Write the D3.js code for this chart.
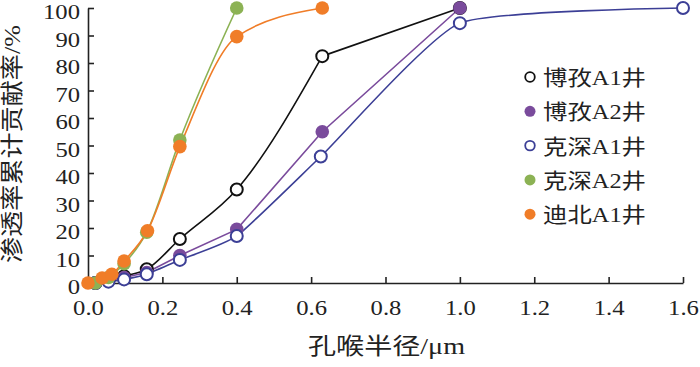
<!DOCTYPE html>
<html>
<head>
<meta charset="utf-8">
<script src="https://cdn.jsdelivr.net/npm/d3@7"></script>
<style>
	body { margin: 0; background: #fff; }
	svg { display: block; }
	text { font-family: "Liberation Serif", "Times New Roman", "DejaVu Serif", "Noto Sans CJK SC", serif; fill: #222; }
</style>
</head>
<body>
<main></main>
<script>
// pore radius (um) and cumulative permeability contribution (%)
const seriesNames = ["博孜A1井", "博孜A2井", "克深A1井", "克深A2井", "迪北A1井"];
const seriesColors = ["#111111", "#7a4b9c", "#3c3f96", "#8cb254", "#f07d28"];
const seriesFilled = [false, true, false, true, true];
// curve used for the leading points, and how many of them (rest is straight)
const seriesCurves = [d3.curveMonotoneX, d3.curveLinear, d3.curveCardinal.tension(0.5), d3.curveMonotoneX, d3.curveMonotoneX];
const seriesSmoothPts = [7, 8, 9, 6, 8];

const boziA1X = [0.02, 0.055, 0.097, 0.158, 0.247, 0.40, 0.63, 1.0];
const boziA1Y = [0, 1, 2.5, 5, 16, 34, 82.5, 100];
const boziA2X = [0.02, 0.055, 0.097, 0.158, 0.247, 0.40, 0.63, 1.0];
const boziA2Y = [0, 0.8, 2, 3.8, 10, 19.5, 55, 100];
const keshenA1X = [0.02, 0.055, 0.097, 0.158, 0.247, 0.40, 0.626, 1.0, 1.6];
const keshenA1Y = [0, 0.5, 1.3, 3.2, 8.4, 17.1, 46, 94.5, 100];
const keshenA2X = [0.02, 0.055, 0.097, 0.158, 0.247, 0.40];
const keshenA2Y = [0, 2, 7, 18.5, 52, 100];
const dibeiA1X = [0.0, 0.038, 0.064, 0.097, 0.16, 0.247, 0.40, 0.63];
const dibeiA1Y = [0, 1.8, 3.2, 8, 19, 49.6, 89.6, 100];

const xTicks = [0, 0.2, 0.4, 0.6, 0.8, 1.0, 1.2, 1.4, 1.6];
const yTicks = [0, 10, 20, 30, 40, 50, 60, 70, 80, 90, 100];

const xTitle = "孔喉半径/μm";
const yTitle = "渗透率累计贡献率/%";

const allX = [boziA1X, boziA2X, keshenA1X, keshenA2X, dibeiA1X];
const allY = [boziA1Y, boziA2Y, keshenA1Y, keshenA2Y, dibeiA1Y];

const serif = "'Liberation Serif', 'Times New Roman', 'DejaVu Serif', 'Noto Sans CJK SC', serif";

const width = 700;
const height = 367;
let dimensions = {
	width: width,
	height: height,
	margins: { top: 8, right: 17, bottom: 84, left: 88 },
};
dimensions.boundedWidth = dimensions.width - dimensions.margins.left - dimensions.margins.right;
dimensions.boundedHeight = dimensions.height - dimensions.margins.top - dimensions.margins.bottom;

const svg = d3.select("main")
	.append("svg")
	.attr("width", dimensions.width)
	.attr("height", dimensions.height);

const graph = svg.append("g")
	.attr("transform", `translate(${dimensions.margins.left},${dimensions.margins.top})`);

const xScale = d3.scaleLinear()
	.domain([0, 1.6])
	.range([0, dimensions.boundedWidth]);

const yScale = d3.scaleLinear()
	.domain([0, 100])
	.range([dimensions.boundedHeight, 0]);

// axes
const xAxis = graph.append("g")
	.attr("transform", `translate(0,${dimensions.boundedHeight})`)
	.call(d3.axisBottom(xScale)
		.tickValues(xTicks)
		.tickFormat(d3.format(".1f"))
		.tickSizeInner(-6)
		.tickSizeOuter(0)
		.tickPadding(16));

const yAxis = graph.append("g")
	.call(d3.axisLeft(yScale)
		.tickValues(yTicks)
		.tickSizeInner(-6)
		.tickSizeOuter(0)
		.tickPadding(8));

[xAxis, yAxis].forEach(ax => {
	ax.attr("font-family", serif).attr("font-size", 22);
	ax.select(".domain").attr("stroke", "#222").attr("stroke-width", 1.6);
	ax.selectAll(".tick line").attr("stroke", "#222").attr("stroke-width", 1.6);
	ax.selectAll(".tick text")
		.attr("fill", "#222")
		.style("font-family", serif)
		.style("font-size", "22px")
		.each(function() {
			// source lettering is a little wider than the font
			this.setAttribute("textLength", this.getComputedTextLength() * 1.12);
			this.setAttribute("lengthAdjust", "spacingAndGlyphs");
		});
});
yAxis.selectAll(".tick text").attr("dy", "0.48em");

// lines and markers
seriesNames.forEach((name, i) => {
	const pts = allX[i].map((x, j) => [x, allY[i][j]]);
	const n = seriesSmoothPts[i];
	const smooth = d3.line()
		.x(d => xScale(d[0]))
		.y(d => yScale(d[1]))
		.curve(seriesCurves[i]);
	const straight = d3.line()
		.x(d => xScale(d[0]))
		.y(d => yScale(d[1]));

	const parts = [];
	if (n > 1) parts.push(smooth(pts.slice(0, n)));
	if (n < pts.length) parts.push(straight(pts.slice(Math.max(n - 1, 0))));

	graph.append("path")
		.attr("d", parts.join(""))
		.attr("fill", "none")
		.attr("stroke", seriesColors[i])
		.attr("stroke-width", 1.6);
});

seriesNames.forEach((name, i) => {
	const pts = allX[i].map((x, j) => [x, allY[i][j]]);
	graph.append("g")
		.selectAll("circle")
		.data(pts)
		.enter()
		.append("circle")
		.attr("cx", d => xScale(d[0]))
		.attr("cy", d => yScale(d[1]))
		.attr("r", seriesFilled[i] ? 6.8 : 6)
		.attr("fill", seriesFilled[i] ? seriesColors[i] : "#fff")
		.attr("stroke", seriesFilled[i] ? "none" : seriesColors[i])
		.attr("stroke-width", 2);
});

// legend
const legend = svg.append("g")
	.attr("transform", "translate(530,77)");

seriesNames.forEach((name, i) => {
	const row = legend.append("g")
		.attr("transform", `translate(0,${i * 34.3})`);
	row.append("circle")
		.attr("r", seriesFilled[i] ? 5.5 : 4.8)
		.attr("fill", seriesFilled[i] ? seriesColors[i] : "#fff")
		.attr("stroke", seriesFilled[i] ? "none" : seriesColors[i])
		.attr("stroke-width", 1.8);
	row.append("text")
		.attr("x", 13)
		.attr("y", 1)
		.attr("dominant-baseline", "central")
		.attr("textLength", 103)
		.attr("lengthAdjust", "spacingAndGlyphs")
		.style("font-size", "21px")
		.text(name);
});

// axis titles
svg.append("text")
	.attr("x", 308)
	.attr("y", 346)
	.attr("dominant-baseline", "central")
	.attr("textLength", 157)
	.attr("lengthAdjust", "spacingAndGlyphs")
	.style("font-size", "23px")
	.text(xTitle);

svg.append("text")
	.attr("transform", "translate(12,263) rotate(-90)")
	.attr("x", 0)
	.attr("y", 0)
	.attr("dominant-baseline", "central")
	.attr("textLength", 238)
	.attr("lengthAdjust", "spacingAndGlyphs")
	.style("font-size", "23px")
	.text(yTitle);
</script>
</body>
</html>
